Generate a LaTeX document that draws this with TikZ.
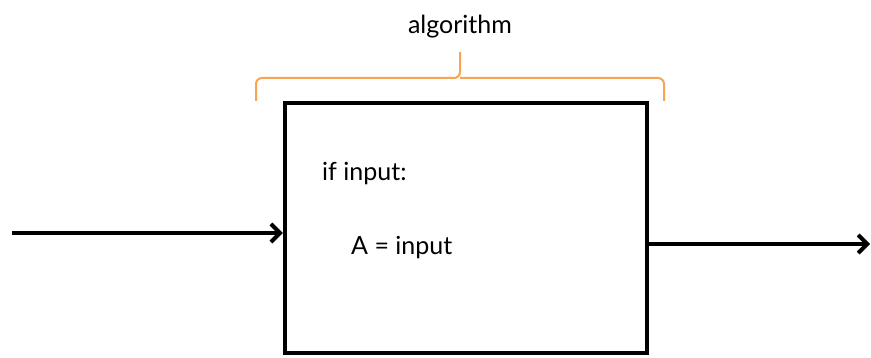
\documentclass[tikz,border=0pt]{standalone}
\usepackage{fontspec}
\setmainfont{Lato}
\usetikzlibrary{arrows.meta}
\definecolor{brk}{HTML}{F7A552}
\tikzset{
  conn/.style={line width=4pt, -{Straight Barb[length=9pt,width=18pt,line width=4pt]}},
  lbl/.style={font=\fontsize{25}{30}\selectfont, inner sep=0pt, anchor=base west},
}
\begin{document}
\begin{tikzpicture}[x=1pt,y=-1pt]
\useasboundingbox (0,0) rectangle (871,358);
% box
\node[draw, line width=4.5pt, minimum width=362pt, minimum height=250pt, inner sep=0pt] (box) at (466,228) {};
% bracket
\draw[brk, line width=2pt, rounded corners=6pt] (256,101) -- (256,78) -- (460,78) -- (460,52);
\draw[brk, line width=2pt, rounded corners=6pt] (664,101) -- (664,78) -- (460,78);
\node[font=\fontsize{25}{30}\selectfont, inner sep=0pt, anchor=base] (alg) at (460,34) {algorithm};
% texts
\node[lbl] (t1) at (322,181) {if input:};
\node[lbl] (t2) at (351,255) {A = input};
% arrows
\coordinate (in) at (12,233);
\coordinate (out) at (870,244);
\draw[conn] (in) -- (box.west |- in);
\draw[conn] (box.east |- out) -- (out);
\end{tikzpicture}
\end{document}
